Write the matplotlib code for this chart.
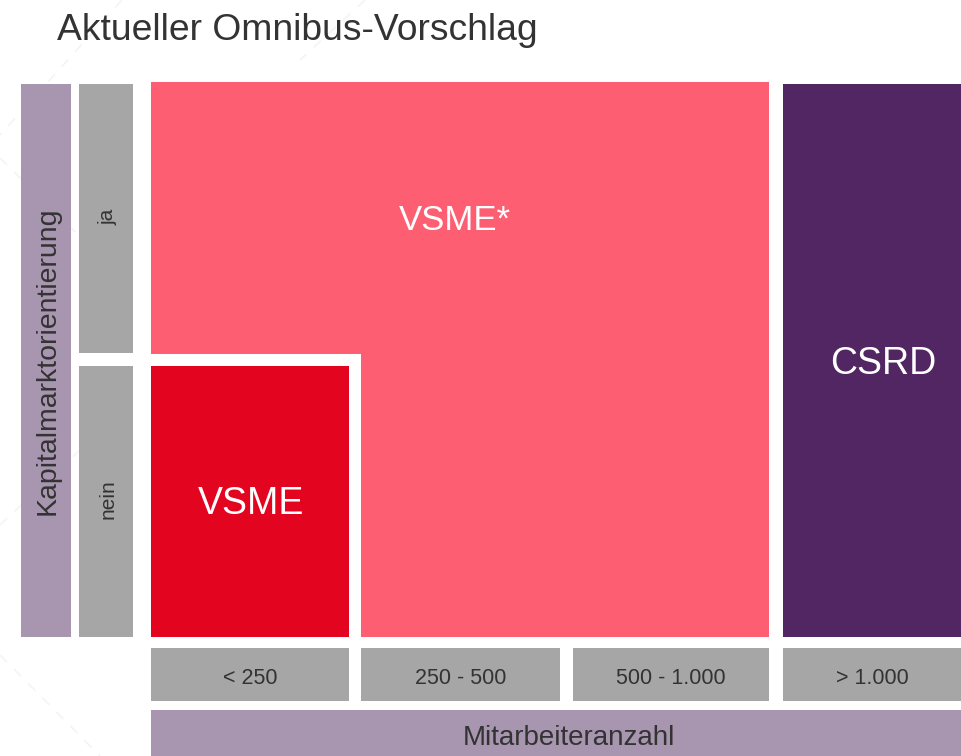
import matplotlib.pyplot as plt
from matplotlib.patches import Rectangle, Polygon

plt.rcParams['font.family'] = ['Liberation Sans', 'DejaVu Sans']

# Inhalte des Diagramms
titel = "Aktueller Omnibus-Vorschlag"
x_titel = "Mitarbeiteranzahl"
y_titel = "Kapitalmarktorientierung"
spalten = ["< 250", "250 - 500", "500 - 1.000", "> 1.000"]
zeilen = ["ja", "nein"]
felder = ["VSME", "VSME*", "CSRD"]

# Raster in Pixeln (Figur 962 x 756)
spalten_x = [(151, 349), (361, 560), (573, 769), (783, 962)]
zeilen_y = [(84, 353), (366, 637)]

c_lila = "#a895b0"
c_grau = "#a6a6a6"
c_rosa = "#fd5e72"
c_rot = "#e30420"
c_dunkel = "#522662"
c_text = "#333333"

fig = plt.figure(figsize=(9.62, 7.56), dpi=100)
ax = fig.add_axes([0, 0, 1, 1])
ax.set_xlim(0, 962)
ax.set_ylim(756, 0)
ax.axis("off")

# blasse Hintergrundlinien
for (x0, y0, x1, y1) in [(122, 0, 0, 135), (0, 158, 75, 232), (0, 655, 100, 756),
                         (0, 525, 80, 450), (365, 0, 300, 60)]:
    ax.plot([x0, x1], [y0, y1], color="#f4f4f4", lw=1.2, ls=(0, (6, 6)), zorder=0)

def box(x0, x1, y0, y1, farbe):
    ax.add_patch(Rectangle((x0, y0), x1 - x0, y1 - y0, color=farbe, lw=0, zorder=1))

# Achsenbeschriftungen
box(21, 71, zeilen_y[0][0], zeilen_y[1][1], c_lila)
ax.text(48, (zeilen_y[0][0] + zeilen_y[1][1]) / 2, y_titel, rotation=90,
        ha="center", va="center", fontsize=20.5, color=c_text)
for (y0, y1), lab in zip(zeilen_y, zeilen):
    box(79, 133, y0, y1, c_grau)
    ax.text(108, (y0 + y1) / 2 - 2, lab, rotation=90, ha="center", va="center",
            fontsize=15, color=c_text)

for (x0, x1), lab in zip(spalten_x, spalten):
    box(x0, x1, 648, 701, c_grau)
    ax.text((x0 + x1) / 2, 678, lab, ha="center", va="center", fontsize=15.5, color=c_text)

box(spalten_x[0][0], 962, 710, 760, c_lila)
ax.text((spalten_x[0][0] + 962) / 2 + 12, 738, x_titel, ha="center", va="center",
        fontsize=20, color=c_text)

# Felder
vsme_stern = [(151, 82), (769, 82), (769, 637), (361, 637), (361, 354), (151, 354)]
ax.add_patch(Polygon(vsme_stern, closed=True, color=c_rosa, lw=0, zorder=1))
box(spalten_x[0][0], spalten_x[0][1], zeilen_y[1][0], zeilen_y[1][1], c_rot)
box(spalten_x[3][0], spalten_x[3][1], 84, 637, c_dunkel)

ax.text(251, 504, felder[0], ha="center", va="center", fontsize=27, color="white")
ax.text(455, 220, felder[1], ha="center", va="center", fontsize=25, color="white")
ax.text(883, 364, felder[2], ha="center", va="center", fontsize=27, color="white")

ax.text(57, 30, titel, ha="left", va="center", fontsize=26.8, color=c_text)

fig.savefig("out.png", dpi=100)
